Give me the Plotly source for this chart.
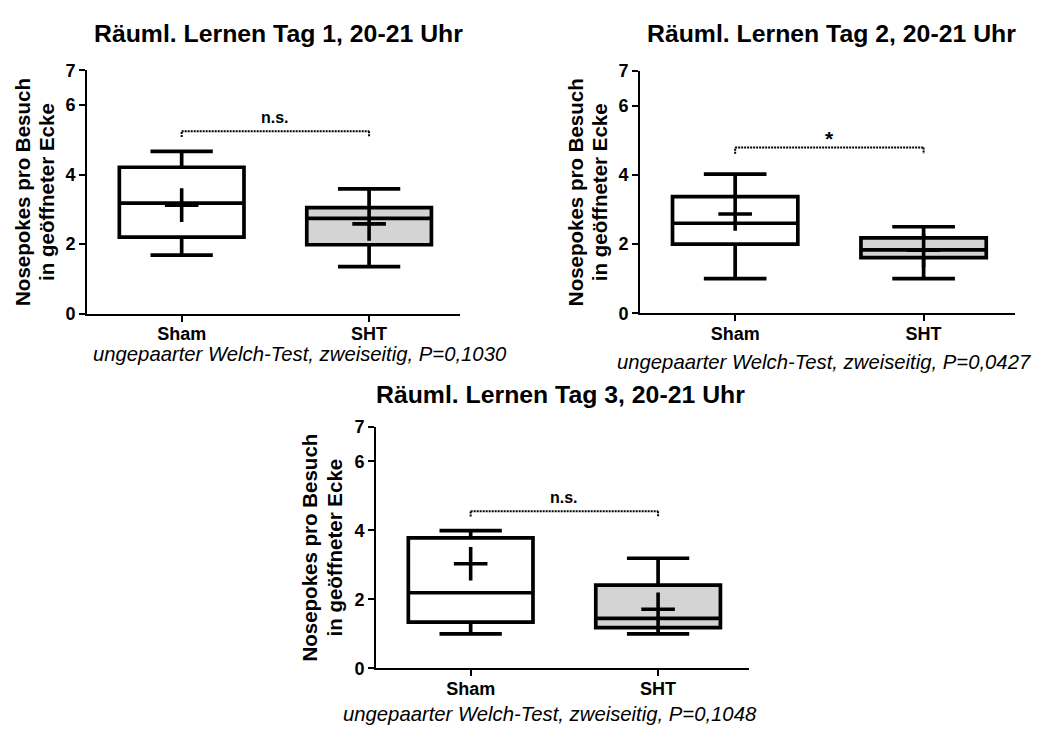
import plotly.graph_objects as go

W, H = 1043, 738
FONT = "Arial, 'Liberation Sans', sans-serif"

groups = ["Sham", "SHT"]
titles = ["Räuml. Lernen Tag 1, 20-21 Uhr",
          "Räuml. Lernen Tag 2, 20-21 Uhr",
          "Räuml. Lernen Tag 3, 20-21 Uhr"]
captions = ["ungepaarter Welch-Test, zweiseitig, P=0,1030",
            "ungepaarter Welch-Test, zweiseitig, P=0,0427",
            "ungepaarter Welch-Test, zweiseitig, P=0,1048"]
sig_labels = ["n.s.", "*", "n.s."]
ytitle_lines = ["Nosepokes pro Besuch", "in geöffneter Ecke"]
y_ticks = [0, 2, 4, 6, 7]

# box statistics per day: [Sham, SHT]
day1_min = [1.68, 1.35]
day1_q1 = [2.20, 1.98]
day1_median = [3.18, 2.74]
day1_q3 = [4.21, 3.05]
day1_max = [4.67, 3.59]
day1_mean = [3.12, 2.58]

day2_min = [1.00, 1.00]
day2_q1 = [2.00, 1.61]
day2_median = [2.60, 1.83]
day2_q3 = [3.37, 2.18]
day2_max = [4.02, 2.50]
day2_mean = [2.87, 1.82]

day3_min = [1.00, 1.00]
day3_q1 = [1.34, 1.18]
day3_median = [2.19, 1.45]
day3_q3 = [3.78, 2.41]
day3_max = [3.99, 3.19]
day3_mean = [3.03, 1.71]

days = [
    (day1_min, day1_q1, day1_median, day1_q3, day1_max, day1_mean),
    (day2_min, day2_q1, day2_median, day2_q3, day2_max, day2_mean),
    (day3_min, day3_q1, day3_median, day3_q3, day3_max, day3_mean),
]

# layout geometry (pixels)
panels = [
    dict(x0=87, x1=460, y0=312, y7=62, title=(278, 24), caption=(300, 354),
         yt=(23, 47), br=(5.25, 5.08, 5.63), sig_size=16),
    dict(x0=640, x1=1015, y0=311.7, y7=62.7, title=(831, 24), caption=(824, 362),
         yt=(575, 599), br=(4.79, 4.61, 5.05), sig_size=21),
    dict(x0=376, x1=749, y0=676.7, y7=428.3, title=(560, 395), caption=(550, 724),
         yt=(310, 335), br=(4.55, 4.40, 4.95), sig_size=16),
]
fills = ["white", "#d4d4d4"]

fig = go.Figure()
shapes, annotations = [], []

for i, (p, d) in enumerate(zip(panels, days)):
    n = "" if i == 0 else str(i + 1)
    xa, ya = "x" + n, "y" + n
    mn, q1, med, q3, mx, mean = d
    for g in range(2):
        fig.add_trace(go.Box(
            x=[g], q1=[q1[g]], median=[med[g]], q3=[q3[g]],
            lowerfence=[mn[g]], upperfence=[mx[g]],
            width=0.665, whiskerwidth=0.5, fillcolor=fills[g],
            line=dict(color="black", width=3.7), boxpoints=False,
            showlegend=False, xaxis=xa, yaxis=ya, hoverinfo="skip"))
    fig.add_trace(go.Scatter(
        x=[0, 1], y=mean, mode="markers", showlegend=False,
        marker=dict(symbol="cross-thin", size=24, color="black",
                    line=dict(color="black", width=3.6)),
        xaxis=xa, yaxis=ya, hoverinfo="skip"))

    axkey = "xaxis" + n
    aykey = "yaxis" + n
    fig.layout[axkey] = dict(
        domain=[p["x0"] / W, p["x1"] / W], range=[-0.505, 1.485],
        anchor=ya, showline=True, linecolor="black", linewidth=2,
        showgrid=False, zeroline=False, ticks="outside", ticklen=6,
        tickwidth=2, tickcolor="black", tickvals=[0, 1], ticktext=groups,
        ticklabelstandoff=-3,
        tickfont=dict(family=FONT, size=18, color="black", weight="bold"),
        fixedrange=True)
    fig.layout[aykey] = dict(
        domain=[(H - p["y0"]) / H, (H - p["y7"]) / H], range=[0, 7],
        anchor=xa, showline=True, linecolor="black", linewidth=2,
        showgrid=False, zeroline=False, ticks="outside", ticklen=6,
        tickwidth=2, tickcolor="black", tickvals=y_ticks,
        tickfont=dict(family=FONT, size=18, color="black", weight="bold"),
        fixedrange=True)

    top, drop, ly = p["br"]
    xr = "x" + n
    yr = "y" + n
    for (xa0, ya0, xa1, ya1) in [(0, drop, 0, top), (0, top, 1, top), (1, top, 1, drop)]:
        shapes.append(dict(type="line", xref=xr, yref=yr, x0=xa0, y0=ya0,
                           x1=xa1, y1=ya1,
                           line=dict(color="black", width=2, dash="2px,1px")))
    annotations.append(dict(xref=xr, yref=yr, x=0.5, y=ly, text=sig_labels[i],
                            showarrow=False, xanchor="center", yanchor="middle",
                            font=dict(family=FONT, size=p["sig_size"], color="black",
                                      weight="bold")))
    tx, ty = p["title"]
    annotations.append(dict(xref="paper", yref="paper", x=tx / W, y=1 - ty / H,
                            text=titles[i], showarrow=False, xanchor="center",
                            yanchor="middle",
                            font=dict(family=FONT, size=24.8, color="black", weight="bold")))
    cx, cy = p["caption"]
    annotations.append(dict(xref="paper", yref="paper", x=cx / W, y=1 - cy / H,
                            text="<i>" + captions[i] + "</i>", showarrow=False,
                            xanchor="center", yanchor="middle",
                            font=dict(family=FONT, size=20.3, color="black")))
    ycenter = (p["y0"] + p["y7"]) / 2
    for k, lx in enumerate(p["yt"]):
        annotations.append(dict(xref="paper", yref="paper", x=lx / W, y=1 - ycenter / H,
                                text=ytitle_lines[k], showarrow=False, textangle=-90,
                                xanchor="center", yanchor="middle",
                                font=dict(family=FONT, size=20.5, color="black", weight="bold")))

fig.update_layout(
    width=W, height=H, margin=dict(l=0, r=0, t=0, b=0),
    paper_bgcolor="white", plot_bgcolor="white",
    shapes=shapes, annotations=annotations, showlegend=False)

fig.write_html("out.html", config={"displayModeBar": False})
